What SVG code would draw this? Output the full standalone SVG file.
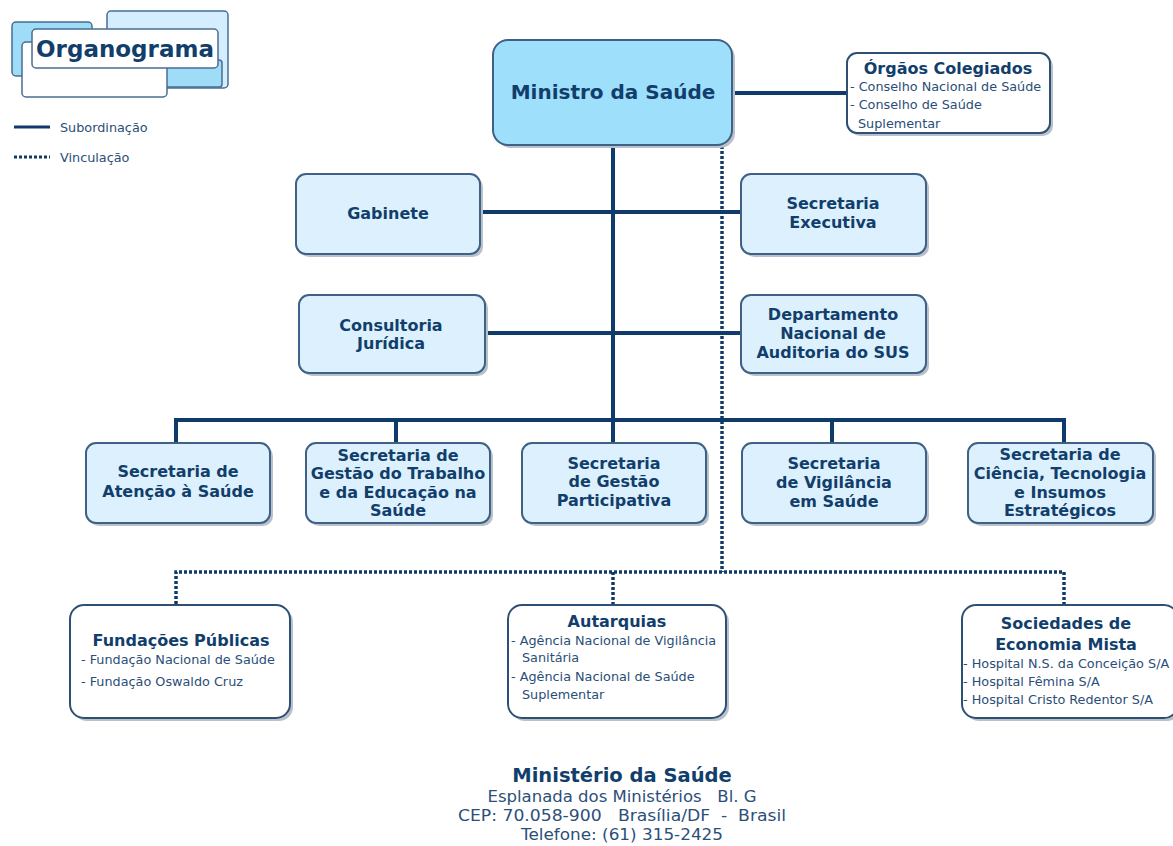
<svg xmlns="http://www.w3.org/2000/svg" width="1173" height="846" viewBox="0 0 1173 846">
<style>
.bg{fill:#ffffff}
.box{fill:#dcf1fd;stroke:#3e6185;stroke-width:2}
.wbox{fill:#ffffff;stroke:#2e5075;stroke-width:2}
.main{fill:#9edffb;stroke:#3e6185;stroke-width:2}
.sh{fill:#b9c2cb}
.t{font-family:"DejaVu Sans",Verdana,sans-serif;font-weight:bold;fill:#123e6c;text-anchor:middle;font-size:16px}
.s{font-family:"DejaVu Sans",Verdana,sans-serif;fill:#2a4e78;font-size:12.8px}
.sub{stroke:#0f3b6b;stroke-width:4;fill:none}
.vin{stroke:#0f3b6b;stroke-width:3.5;fill:none;stroke-dasharray:3 2}
.f{font-family:"DejaVu Sans",Verdana,sans-serif;fill:#2c4f7a;font-size:16px;text-anchor:middle}
</style>
<rect class="bg" x="0" y="0" width="1173" height="846"/>

<g id="logo">
  <rect x="12" y="22" width="80" height="54" rx="4" fill="#9edcf8" stroke="#4a6d90" stroke-width="1.5"/>
  <rect x="107" y="11" width="121" height="77" rx="4" fill="#d4eeff" stroke="#4a6d90" stroke-width="1.5"/>
  <rect x="148" y="60" width="74" height="27" rx="3" fill="#9edcf8" stroke="#4a6d90" stroke-width="1.5"/>
  <rect x="50" y="60" width="100" height="22" rx="3" fill="#d4eeff" stroke="#4a6d90" stroke-width="1.5"/>
  <rect x="22" y="42" width="145" height="55" rx="4" fill="#ffffff" stroke="#4a6d90" stroke-width="1.5"/>
  <rect x="32" y="29" width="186" height="39" rx="4" fill="#ffffff" stroke="#4a6d90" stroke-width="1.5"/>
  <text x="125" y="57" class="t" style="font-size:23px" fill="#0f3b6b">Organograma</text>
</g>

<g id="legend">
  <line x1="14" y1="127" x2="50" y2="127" stroke="#0f3b6b" stroke-width="3"/>
  <line x1="14" y1="157" x2="50" y2="157" stroke="#0f3b6b" stroke-width="3" stroke-dasharray="3 2"/>
  <text x="60" y="132" class="s">Subordinação</text>
  <text x="60" y="162" class="s">Vinculação</text>
</g>

<g id="connectors">
  <line class="sub" x1="732" y1="93" x2="847" y2="93"/>
  <line class="sub" x1="613" y1="145" x2="613" y2="422"/>
  <line class="sub" x1="480" y1="212" x2="741" y2="212"/>
  <line class="sub" x1="485" y1="333" x2="741" y2="333"/>
  <polyline class="sub" points="176,443 176,420 1064,420 1064,443"/>
  <line class="sub" x1="396" y1="420" x2="396" y2="443"/>
  <line class="sub" x1="613" y1="420" x2="613" y2="443"/>
  <line class="sub" x1="832" y1="420" x2="832" y2="443"/>
  <line class="vin" x1="722" y1="146" x2="722" y2="572"/>
  <polyline class="vin" points="176,604 176,572 1064,572 1064,604"/>
  <line class="vin" x1="613" y1="572" x2="613" y2="604"/>
</g>

<g id="ministro">
  <rect class="sh" x="496" y="43" width="239" height="105" rx="15"/>
  <rect class="main" x="493" y="40" width="239" height="105" rx="15"/>
  <text x="613" y="99" class="t" style="font-size:20px">Ministro da Saúde</text>
</g>

<g id="orgaos">
  <rect class="sh" x="850" y="56" width="203" height="80" rx="10"/>
  <rect class="wbox" x="847" y="53" width="203" height="80" rx="10"/>
  <text x="948" y="74" class="t">Órgãos Colegiados</text>
  <text x="850" y="91" class="s">- Conselho Nacional de Saúde</text>
  <text x="850" y="109" class="s">- Conselho de Saúde</text>
  <text x="858" y="128" class="s">Suplementar</text>
</g>

<g id="gabinete">
  <rect class="sh" x="299" y="177" width="184" height="80" rx="10"/>
  <rect class="box" x="296" y="174" width="184" height="80" rx="10"/>
  <text x="388" y="219" class="t">Gabinete</text>
</g>

<g id="sec-executiva">
  <rect class="sh" x="744" y="177" width="185" height="80" rx="10"/>
  <rect class="box" x="741" y="174" width="185" height="80" rx="10"/>
  <text x="833" y="209" class="t">Secretaria</text>
  <text x="833" y="228" class="t">Executiva</text>
</g>

<g id="consultoria">
  <rect class="sh" x="302" y="298" width="186" height="78" rx="10"/>
  <rect class="box" x="299" y="295" width="186" height="78" rx="10"/>
  <text x="391" y="331" class="t">Consultoria</text>
  <text x="391" y="349" class="t">Jurídica</text>
</g>

<g id="denasus">
  <rect class="sh" x="744" y="298" width="185" height="78" rx="10"/>
  <rect class="box" x="741" y="295" width="185" height="78" rx="10"/>
  <text x="833" y="320" class="t">Departamento</text>
  <text x="833" y="339" class="t">Nacional de</text>
  <text x="833" y="358" class="t">Auditoria do SUS</text>
</g>

<g id="sas">
  <rect class="sh" x="89" y="446" width="184" height="80" rx="10"/>
  <rect class="box" x="86" y="443" width="184" height="80" rx="10"/>
  <text x="178" y="477" class="t">Secretaria de</text>
  <text x="178" y="497" class="t">Atenção à Saúde</text>
</g>

<g id="sgtes">
  <rect class="sh" x="309" y="446" width="184" height="80" rx="10"/>
  <rect class="box" x="306" y="443" width="184" height="80" rx="10"/>
  <text x="398" y="461" class="t">Secretaria de</text>
  <text x="398" y="479" class="t">Gestão do Trabalho</text>
  <text x="398" y="498" class="t">e da Educação na</text>
  <text x="398" y="516" class="t">Saúde</text>
</g>

<g id="sgp">
  <rect class="sh" x="525" y="446" width="184" height="80" rx="10"/>
  <rect class="box" x="522" y="443" width="184" height="80" rx="10"/>
  <text x="614" y="469" class="t">Secretaria</text>
  <text x="614" y="487" class="t">de Gestão</text>
  <text x="614" y="506" class="t">Participativa</text>
</g>

<g id="svs">
  <rect class="sh" x="745" y="446" width="184" height="80" rx="10"/>
  <rect class="box" x="742" y="443" width="184" height="80" rx="10"/>
  <text x="834" y="469" class="t">Secretaria</text>
  <text x="834" y="488" class="t">de Vigilância</text>
  <text x="834" y="507" class="t">em Saúde</text>
</g>

<g id="sctie">
  <rect class="sh" x="971" y="446" width="185" height="80" rx="10"/>
  <rect class="box" x="968" y="443" width="185" height="80" rx="10"/>
  <text x="1060" y="460" class="t">Secretaria de</text>
  <text x="1060" y="479" class="t">Ciência, Tecnologia</text>
  <text x="1060" y="498" class="t">e Insumos</text>
  <text x="1060" y="516" class="t">Estratégicos</text>
</g>

<g id="fundacoes">
  <rect class="sh" x="73" y="608" width="220" height="113" rx="14"/>
  <rect class="wbox" x="70" y="605" width="220" height="113" rx="14"/>
  <text x="181" y="646" class="t">Fundações Públicas</text>
  <text x="81" y="664" class="s">- Fundação Nacional de Saúde</text>
  <text x="81" y="686" class="s">- Fundação Oswaldo Cruz</text>
</g>

<g id="autarquias">
  <rect class="sh" x="511" y="608" width="218" height="113" rx="14"/>
  <rect class="wbox" x="508" y="605" width="218" height="113" rx="14"/>
  <text x="617" y="627" class="t">Autarquias</text>
  <text x="511" y="645" class="s">- Agência Nacional de Vigilância</text>
  <text x="522" y="662" class="s">Sanitária</text>
  <text x="511" y="681" class="s">- Agência Nacional de Saúde</text>
  <text x="522" y="699" class="s">Suplementar</text>
</g>

<g id="sociedades">
  <rect class="sh" x="965" y="608" width="216" height="113" rx="14"/>
  <rect class="wbox" x="962" y="605" width="216" height="113" rx="14"/>
  <text x="1066" y="629" class="t">Sociedades de</text>
  <text x="1066" y="650" class="t">Economia Mista</text>
  <text x="963" y="668" class="s">- Hospital N.S. da Conceição S/A</text>
  <text x="963" y="686" class="s">- Hospital Fêmina S/A</text>
  <text x="963" y="704" class="s">- Hospital Cristo Redentor S/A</text>
</g>

<g id="footer">
  <text x="622" y="782" class="t" style="font-size:19.5px" fill="#1b4470">Ministério da Saúde</text>
  <text x="622" y="802" class="f" xml:space="preserve" textLength="269" lengthAdjust="spacingAndGlyphs">Esplanada dos Ministérios   Bl. G</text>
  <text x="622" y="821" class="f" xml:space="preserve" textLength="328" lengthAdjust="spacingAndGlyphs">CEP: 70.058-900   Brasília/DF  -  Brasil</text>
  <text x="622" y="840" class="f" textLength="202" lengthAdjust="spacingAndGlyphs">Telefone: (61) 315-2425</text>
</g>
</svg>
